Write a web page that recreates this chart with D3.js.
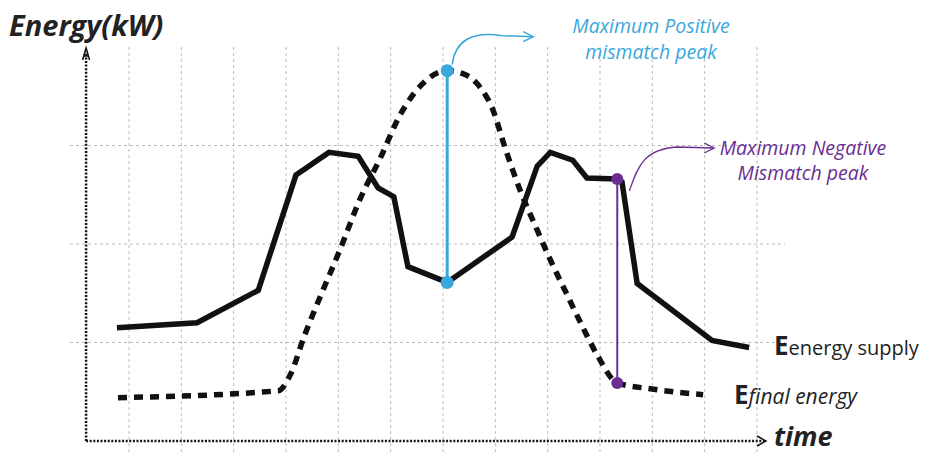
<!DOCTYPE html>
<html><head><meta charset="utf-8">
<script src="https://cdn.jsdelivr.net/npm/d3@7"></script>
<style>body{margin:0;background:#fff}svg{display:block}text{font-family:"Open Sans",sans-serif}</style>
</head><body>
<svg id="c" width="928" height="455"></svg>
<script>
// time (grid units) and energy (grid units)
const supplyT = [-0.23,1.30,2.47,3.19,3.82,4.38,4.76,5.06,5.33,6.08,7.32,7.80,8.05,8.48,8.75,9.33,9.42,9.71,11.14,11.85];
const supplyE = [1.15,1.20,1.53,2.70,2.93,2.89,2.57,2.48,1.77,1.61,2.07,2.79,2.93,2.85,2.67,2.66,2.63,1.60,1.02,0.95];
const finalT = [-0.21,2.85,3.08,3.36,3.65,4.03,4.41,4.80,5.18,5.56,6.08,6.42,6.71,6.94,7.19,7.47,7.76,8.05,8.33,8.62,8.94,9.33,9.96,10.97];
const finalE = [0.44,0.51,0.67,1.08,1.46,1.94,2.45,2.87,3.31,3.60,3.76,3.72,3.59,3.38,2.97,2.55,2.19,1.84,1.53,1.21,0.88,0.59,0.53,0.47];
const xGrid = [0,1,2,3,4,5,6,7,8,9,10,11,12];
const yGrid = [1,2,3];
const posPeak = {t:6.08, top:3.76, bottom:1.61};
const negPeak = {t:9.33, top:2.66, bottom:0.59};

const svg = d3.select("#c");
const x = d3.scaleLinear().domain([0,12]).range([129,757]);
const y = d3.scaleLinear().domain([0,4]).range([441,47]);

// grid
svg.append("g").selectAll("line").data(xGrid).join("line")
  .attr("x1",d=>x(d)).attr("x2",d=>x(d)).attr("y1",y(4)).attr("y2",453)
  .attr("stroke","#bdbdbd").attr("stroke-width",1).attr("stroke-dasharray","3,3");
svg.append("g").selectAll("line").data(yGrid).join("line")
  .attr("x1",70).attr("x2",785).attr("y1",d=>y(d)).attr("y2",d=>y(d))
  .attr("stroke","#bdbdbd").attr("stroke-width",1).attr("stroke-dasharray","3,3");

// axes (dotted)
const ax = x(-0.82);
svg.append("line").attr("x1",ax).attr("x2",ax).attr("y1",y(0)).attr("y2",52)
  .attr("stroke","#111").attr("stroke-width",2.5).attr("stroke-dasharray","2,1.6");
svg.append("path").attr("d",`M${ax-3.5},${60} L${ax},${48} L${ax+3.5},${60} M${ax-2},${56} L${ax+2},${56}`)
  .attr("fill","none").attr("stroke","#111").attr("stroke-width",1.5);
svg.append("line").attr("x1",ax).attr("x2",764).attr("y1",y(0)).attr("y2",y(0))
  .attr("stroke","#111").attr("stroke-width",2.5).attr("stroke-dasharray","2,1.6");
svg.append("path").attr("d",`M757,${y(0)-5} L766,${y(0)} L757,${y(0)+5}`)
  .attr("fill","none").attr("stroke","#111").attr("stroke-width",1.5);

// lines
const line = d3.line().x(d=>x(d[0])).y(d=>y(d[1]));
svg.append("path").datum(finalT.map((t,i)=>[t,finalE[i]]))
  .attr("d",line.curve(d3.curveMonotoneX)).attr("fill","none").attr("stroke","#111")
  .attr("stroke-width",5.5).attr("stroke-dasharray","9,7");
svg.append("path").datum(supplyT.map((t,i)=>[t,supplyE[i]]))
  .attr("d",d3.line().x(d=>x(d[0])).y(d=>y(d[1]))).attr("fill","none").attr("stroke","#111")
  .attr("stroke-width",5.5).attr("stroke-linejoin","miter");

// peaks
const blue = "#3aa7dc", purple = "#6a2d91";
svg.append("line").attr("x1",x(posPeak.t)).attr("x2",x(posPeak.t)).attr("y1",y(posPeak.top)).attr("y2",y(posPeak.bottom))
  .attr("stroke",blue).attr("stroke-width",3);
svg.selectAll(".pc").data([posPeak.top,posPeak.bottom]).join("circle")
  .attr("cx",x(posPeak.t)).attr("cy",d=>y(d)).attr("r",6.5).attr("fill",blue);
svg.append("line").attr("x1",x(negPeak.t)).attr("x2",x(negPeak.t)).attr("y1",y(negPeak.top)).attr("y2",y(negPeak.bottom))
  .attr("stroke",purple).attr("stroke-width",2);
svg.selectAll(".nc").data([negPeak.top,negPeak.bottom]).join("circle")
  .attr("cx",x(negPeak.t)).attr("cy",d=>y(d)).attr("r",6).attr("fill",purple);

// annotation arrows
const px = x(posPeak.t), py = y(posPeak.top);
svg.append("path").attr("d",`M${px+5},${py-6} C${px+8},${py-30} ${px+25},${py-40} ${px+55},${py-35} L${px+85},${py-34}`)
  .attr("fill","none").attr("stroke",blue).attr("stroke-width",1.5);
svg.append("path").attr("d",`M${px+76},${py-39} L${px+86},${py-34} L${px+76},${py-29}`)
  .attr("fill","none").attr("stroke",blue).attr("stroke-width",1.5);
const nx = x(negPeak.t), ny = y(negPeak.top);
svg.append("path").attr("d",`M${nx+12},${ny+12} C${nx+20},${ny-10} ${nx+25},${ny-30} ${nx+60},${ny-32} L${nx+96},${ny-31}`)
  .attr("fill","none").attr("stroke",purple).attr("stroke-width",1.3);
svg.append("path").attr("d",`M${nx+87},${ny-36} L${nx+97},${ny-31} L${nx+87},${ny-26}`)
  .attr("fill","none").attr("stroke",purple).attr("stroke-width",1.3);

// texts
svg.append("text").attr("x",9).attr("y",36).attr("font-size",29).attr("font-weight",700).attr("font-style","italic")
  .attr("fill","#222").text("Energy(kW)");
svg.append("text").attr("x",774).attr("y",446).attr("font-size",27).attr("font-weight",700).attr("font-style","italic")
  .attr("fill","#222").text("time");
const t1 = svg.append("text").attr("y",33).attr("text-anchor","middle").attr("font-size",19.5).attr("font-style","italic").attr("fill",blue);
t1.append("tspan").attr("x",651).text("Maximum Positive");
t1.append("tspan").attr("x",651).attr("dy",26).text("mismatch peak");
const t2 = svg.append("text").attr("y",155).attr("text-anchor","middle").attr("font-size",19.5).attr("font-style","italic").attr("fill",purple);
t2.append("tspan").attr("x",803).text("Maximum Negative");
t2.append("tspan").attr("x",803).attr("dy",25).text("Mismatch peak");
const l1 = svg.append("text").attr("x",774).attr("y",355).attr("fill","#222");
l1.append("tspan").attr("font-size",26).attr("font-weight",700).text("E");
l1.append("tspan").attr("font-size",20).text("energy supply");
const l2 = svg.append("text").attr("x",734).attr("y",404).attr("fill","#222");
l2.append("tspan").attr("font-size",26).attr("font-weight",700).text("E");
l2.append("tspan").attr("font-size",21).attr("font-style","italic").text("final energy");
</script>
</body></html>
